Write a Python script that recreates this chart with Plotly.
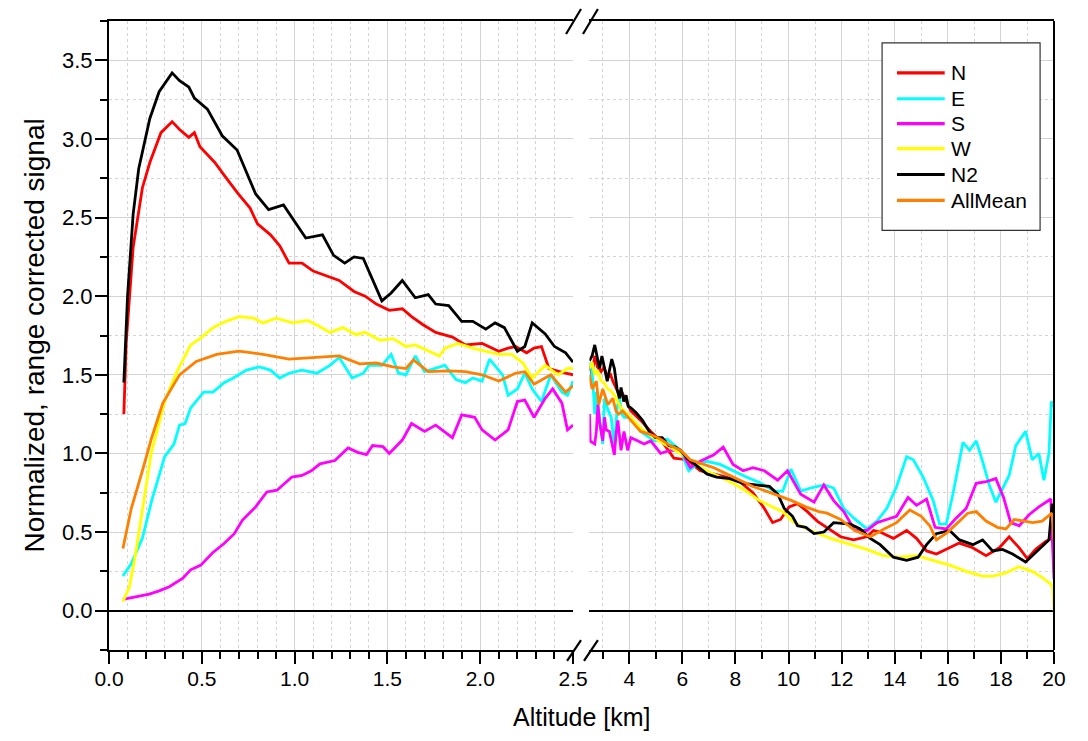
import plotly.graph_objects as go

# ---------------- data: left panel (0 - 2.5 km) ----------------
N_left_x = [0.08, 0.093, 0.13, 0.18, 0.22, 0.28, 0.34, 0.38, 0.43, 0.46, 0.49, 0.57, 0.62, 0.69, 0.76, 0.8, 0.87, 0.92, 0.97, 1.04, 1.1, 1.17, 1.24, 1.32, 1.38, 1.44, 1.51, 1.58, 1.63, 1.69, 1.76, 1.85, 1.92, 2.01, 2.1, 2.15, 2.19, 2.25, 2.29, 2.33, 2.37, 2.46, 2.5]
N_left_y = [1.25, 1.71, 2.31, 2.69, 2.85, 3.04, 3.11, 3.06, 3.01, 3.04, 2.95, 2.85, 2.77, 2.66, 2.56, 2.46, 2.39, 2.32, 2.21, 2.21, 2.16, 2.13, 2.1, 2.03, 2.0, 1.95, 1.91, 1.92, 1.87, 1.82, 1.77, 1.74, 1.69, 1.70, 1.65, 1.67, 1.68, 1.64, 1.67, 1.68, 1.54, 1.51, 1.5]

E_left_x = [0.075, 0.12, 0.18, 0.23, 0.3, 0.35, 0.38, 0.41, 0.44, 0.51, 0.56, 0.62, 0.67, 0.74, 0.81, 0.87, 0.92, 0.97, 1.04, 1.12, 1.19, 1.24, 1.31, 1.37, 1.4, 1.47, 1.52, 1.56, 1.6, 1.65, 1.7, 1.76, 1.81, 1.87, 1.92, 1.96, 2.01, 2.05, 2.12, 2.15, 2.2, 2.24, 2.28, 2.33, 2.38, 2.44, 2.47, 2.5]
E_left_y = [0.22, 0.30, 0.46, 0.70, 0.98, 1.06, 1.18, 1.19, 1.29, 1.39, 1.39, 1.45, 1.48, 1.53, 1.55, 1.53, 1.48, 1.51, 1.53, 1.51, 1.56, 1.61, 1.48, 1.51, 1.56, 1.56, 1.63, 1.51, 1.50, 1.62, 1.52, 1.54, 1.56, 1.47, 1.45, 1.48, 1.46, 1.60, 1.50, 1.37, 1.41, 1.51, 1.41, 1.33, 1.50, 1.39, 1.37, 1.46]

S_left_x = [0.075, 0.147, 0.217, 0.27, 0.325, 0.396, 0.44, 0.495, 0.557, 0.62, 0.675, 0.718, 0.79, 0.85, 0.905, 0.985, 1.04, 1.09, 1.137, 1.217, 1.288, 1.34, 1.387, 1.42, 1.476, 1.51, 1.55, 1.58, 1.63, 1.7, 1.76, 1.85, 1.9, 1.97, 2.01, 2.08, 2.15, 2.2, 2.24, 2.29, 2.35, 2.39, 2.44, 2.47, 2.5]
S_left_y = [0.072, 0.089, 0.105, 0.126, 0.152, 0.205, 0.26, 0.29, 0.367, 0.427, 0.49, 0.575, 0.66, 0.755, 0.766, 0.85, 0.86, 0.89, 0.934, 0.955, 1.035, 1.007, 0.992, 1.05, 1.043, 1.0, 1.05, 1.085, 1.19, 1.14, 1.18, 1.1, 1.245, 1.23, 1.15, 1.085, 1.15, 1.33, 1.34, 1.23, 1.35, 1.41, 1.32, 1.15, 1.18]

W_left_x = [0.075, 0.11, 0.146, 0.18, 0.227, 0.3, 0.366, 0.44, 0.49, 0.56, 0.63, 0.7, 0.78, 0.83, 0.9, 0.99, 1.07, 1.13, 1.19, 1.26, 1.33, 1.38, 1.46, 1.53, 1.6, 1.65, 1.72, 1.78, 1.81, 1.88, 1.96, 2.03, 2.1, 2.17, 2.23, 2.28, 2.35, 2.42, 2.47, 2.5]
W_left_y = [0.057, 0.15, 0.38, 0.64, 1.0, 1.33, 1.52, 1.69, 1.73, 1.80, 1.84, 1.87, 1.86, 1.83, 1.86, 1.83, 1.845, 1.81, 1.77, 1.80, 1.755, 1.77, 1.72, 1.73, 1.68, 1.69, 1.65, 1.62, 1.67, 1.70, 1.67, 1.65, 1.63, 1.63, 1.575, 1.48, 1.56, 1.5, 1.54, 1.54]

N2_left_x = [0.08, 0.1, 0.13, 0.16, 0.22, 0.27, 0.34, 0.38, 0.43, 0.46, 0.53, 0.61, 0.69, 0.79, 0.86, 0.94, 1.06, 1.15, 1.21, 1.27, 1.32, 1.37, 1.47, 1.52, 1.58, 1.65, 1.72, 1.76, 1.83, 1.9, 1.96, 2.03, 2.08, 2.13, 2.2, 2.24, 2.28, 2.35, 2.4, 2.46, 2.5]
N2_left_y = [1.45, 2.0, 2.52, 2.81, 3.13, 3.3, 3.42, 3.37, 3.33, 3.26, 3.19, 3.02, 2.93, 2.65, 2.55, 2.58, 2.37, 2.39, 2.26, 2.21, 2.25, 2.24, 1.97, 2.02, 2.1, 1.99, 2.01, 1.95, 1.94, 1.84, 1.84, 1.79, 1.83, 1.8, 1.65, 1.68, 1.83, 1.76, 1.68, 1.64, 1.58]

AllMean_left_x = [0.075, 0.12, 0.18, 0.23, 0.29, 0.38, 0.47, 0.58, 0.7, 0.83, 0.97, 1.1, 1.24, 1.35, 1.44, 1.53, 1.6, 1.64, 1.72, 1.83, 1.92, 2.01, 2.1, 2.19, 2.24, 2.29, 2.38, 2.46, 2.5]
AllMean_left_y = [0.395, 0.65, 0.89, 1.10, 1.32, 1.5, 1.585, 1.63, 1.65, 1.63, 1.6, 1.61, 1.62, 1.57, 1.575, 1.55, 1.54, 1.595, 1.52, 1.525, 1.52, 1.5, 1.46, 1.51, 1.52, 1.44, 1.5, 1.39, 1.43]

# ---------------- data: right panel (2.5 - 20 km) ----------------
N_right_x = [2.5, 2.6, 2.7, 2.8, 2.94, 3.05, 3.19, 3.3, 3.38, 3.5, 3.63, 3.75, 3.88, 4.06, 4.43, 4.81, 5.3, 5.68, 6.17, 6.67, 7.17, 7.66, 8.16, 8.66, 9.09, 9.4, 9.7, 10.02, 10.34, 10.71, 11.08, 11.58, 11.96, 12.45, 12.95, 13.2, 13.45, 13.95, 14.45, 14.82, 15.2, 15.57, 15.94, 16.43, 16.94, 17.44, 17.94, 18.31, 18.69, 19.0, 19.31, 19.69, 19.9, 20.0]
N_right_y = [1.56, 1.5, 1.62, 1.55, 1.52, 1.55, 1.48, 1.5, 1.46, 1.42, 1.37, 1.38, 1.33, 1.27, 1.21, 1.14, 1.06, 0.97, 0.96, 0.89, 0.87, 0.85, 0.82, 0.75, 0.65, 0.56, 0.58, 0.66, 0.68, 0.63, 0.57, 0.51, 0.47, 0.45, 0.47, 0.51, 0.5, 0.46, 0.51, 0.46, 0.38, 0.36, 0.39, 0.43, 0.4, 0.35, 0.4, 0.47, 0.40, 0.33, 0.39, 0.44, 0.46, 0.5]

E_right_x = [2.5, 2.56, 2.63, 2.7, 2.76, 2.82, 2.88, 3.0, 3.07, 3.19, 3.32, 3.44, 3.55, 3.63, 3.72, 3.81, 4.06, 4.43, 4.93, 5.43, 5.93, 6.24, 6.55, 6.92, 7.42, 7.91, 8.41, 8.97, 9.46, 9.78, 10.09, 10.46, 10.83, 11.33, 11.7, 12.08, 12.45, 12.95, 13.33, 13.7, 14.07, 14.45, 14.7, 15.07, 15.45, 15.69, 15.94, 16.19, 16.57, 16.82, 17.07, 17.31, 17.56, 17.81, 18.06, 18.31, 18.56, 18.93, 19.18, 19.43, 19.62, 19.81, 19.9, 20.0]
E_right_y = [1.56, 1.58, 1.45, 1.25, 1.39, 1.3, 1.2, 1.06, 1.35, 1.28, 1.23, 1.04, 1.3, 1.35, 1.25, 1.23, 1.23, 1.14, 1.08, 1.09, 1.02, 0.89, 0.93, 0.95, 0.93, 0.89, 0.85, 0.81, 0.76, 0.76, 0.9, 0.76, 0.78, 0.8, 0.78, 0.65, 0.59, 0.52, 0.57, 0.65, 0.79, 0.98, 0.96, 0.85, 0.7, 0.55, 0.55, 0.74, 1.07, 1.02, 1.08, 0.95, 0.8, 0.69, 0.78, 0.86, 1.05, 1.14, 0.96, 1.0, 0.83, 1.0, 1.33, 1.3]

S_right_x = [2.5, 2.53, 2.6, 2.7, 2.76, 2.82, 2.88, 3.0, 3.07, 3.13, 3.25, 3.38, 3.44, 3.5, 3.57, 3.69, 3.8, 3.94, 4.06, 4.31, 4.56, 4.81, 5.18, 5.55, 5.93, 6.3, 6.67, 7.17, 7.54, 7.91, 8.29, 8.66, 9.09, 9.59, 9.96, 10.46, 10.96, 11.33, 11.7, 12.08, 12.5, 12.95, 13.33, 13.7, 14.07, 14.5, 14.82, 15.2, 15.52, 15.94, 16.32, 16.69, 17.07, 17.44, 17.81, 18.1, 18.37, 18.69, 19.06, 19.43, 19.73, 19.88, 19.95, 20.0]
S_right_y = [1.25, 1.08, 1.07, 1.06, 1.14, 1.31, 1.2, 1.08, 1.23, 1.15, 1.14, 1.05, 0.99, 1.12, 1.21, 1.02, 1.14, 1.02, 1.1, 1.08, 1.06, 1.08, 1.0, 1.02, 1.02, 0.91, 0.95, 0.99, 1.04, 0.93, 0.89, 0.91, 0.89, 0.83, 0.89, 0.74, 0.69, 0.8, 0.7, 0.63, 0.51, 0.51, 0.56, 0.58, 0.6, 0.72, 0.67, 0.71, 0.53, 0.52, 0.59, 0.65, 0.81, 0.82, 0.84, 0.72, 0.56, 0.54, 0.61, 0.66, 0.69, 0.71, 0.4, 0.2]

W_right_x = [2.5, 2.6, 2.7, 2.8, 2.94, 3.05, 3.19, 3.3, 3.44, 3.69, 4.06, 4.43, 4.93, 5.43, 5.93, 6.42, 6.92, 7.42, 7.91, 8.41, 8.91, 9.4, 9.78, 10.21, 10.83, 11.58, 12.33, 12.95, 13.57, 14.2, 14.82, 15.45, 16.07, 16.69, 17.31, 17.69, 18.19, 18.67, 19.18, 19.56, 19.87, 19.95, 20.0]
W_right_y = [1.54, 1.58, 1.5, 1.53, 1.46, 1.45, 1.41, 1.40, 1.37, 1.29, 1.23, 1.16, 1.1, 1.05, 1.0, 0.94, 0.89, 0.85, 0.81, 0.76, 0.70, 0.66, 0.63, 0.56, 0.51, 0.46, 0.42, 0.39, 0.35, 0.34, 0.35, 0.32, 0.29, 0.25, 0.22, 0.22, 0.24, 0.28, 0.25, 0.21, 0.17, 0.15, 0.0]

N2_right_x = [2.5, 2.6, 2.7, 2.8, 2.88, 2.97, 3.07, 3.17, 3.34, 3.44, 3.54, 3.63, 3.69, 3.79, 3.88, 3.96, 4.06, 4.25, 4.5, 4.75, 4.99, 5.24, 5.49, 5.74, 5.93, 6.17, 6.48, 6.92, 7.29, 7.79, 8.29, 8.78, 9.28, 9.6, 9.84, 10.15, 10.34, 10.65, 10.96, 11.33, 11.7, 12.33, 12.7, 13.08, 13.45, 13.95, 14.45, 14.88, 15.2, 15.57, 16.07, 16.44, 16.94, 17.31, 17.69, 18.06, 18.44, 18.93, 19.31, 19.62, 19.81, 19.93, 20.0]
N2_right_y = [1.59, 1.62, 1.69, 1.6, 1.54, 1.62, 1.54, 1.46, 1.6, 1.54, 1.41, 1.35, 1.42, 1.33, 1.37, 1.3, 1.29, 1.26, 1.21, 1.14, 1.1, 1.1, 1.05, 1.04, 1.02, 0.97, 0.93, 0.87, 0.85, 0.84, 0.81, 0.8, 0.79, 0.74, 0.65, 0.6, 0.54, 0.53, 0.49, 0.5, 0.56, 0.55, 0.52, 0.46, 0.42, 0.34, 0.32, 0.34, 0.42, 0.49, 0.51, 0.45, 0.42, 0.45, 0.38, 0.39, 0.36, 0.31, 0.37, 0.42, 0.45, 0.68, 0.6]

AllMean_right_x = [2.5, 2.6, 2.7, 2.76, 2.85, 3.0, 3.1, 3.19, 3.38, 3.5, 3.6, 3.75, 4.06, 4.43, 4.81, 5.18, 5.55, 5.93, 6.3, 6.67, 7.17, 7.66, 8.16, 8.66, 9.16, 9.65, 10.12, 10.65, 11.14, 11.45, 11.96, 12.5, 13.08, 13.6, 14.07, 14.57, 15.0, 15.32, 15.57, 16.0, 16.37, 16.75, 17.07, 17.44, 17.87, 18.19, 18.5, 18.85, 19.2, 19.55, 19.8, 19.92, 20.0]
AllMean_right_y = [1.5, 1.41, 1.44, 1.46, 1.31, 1.41, 1.36, 1.31, 1.35, 1.27, 1.25, 1.27, 1.21, 1.14, 1.12, 1.09, 1.05, 1.02, 0.96, 0.94, 0.91, 0.87, 0.83, 0.79, 0.76, 0.73, 0.7, 0.66, 0.63, 0.62, 0.58, 0.51, 0.47, 0.52, 0.56, 0.64, 0.6, 0.54, 0.45, 0.5, 0.56, 0.62, 0.63, 0.57, 0.53, 0.52, 0.58, 0.57, 0.56, 0.57, 0.6, 0.62, 0.45]

series_names = ["N", "E", "S", "W", "N2", "AllMean"]
series_colors = ["#FF0000", "#00FFFF", "#FF00FF", "#FFFF00", "#000000", "#FF8000"]
left_data = [(N_left_x, N_left_y), (E_left_x, E_left_y), (S_left_x, S_left_y),
             (W_left_x, W_left_y), (N2_left_x, N2_left_y), (AllMean_left_x, AllMean_left_y)]
right_data = [(N_right_x, N_right_y), (E_right_x, E_right_y), (S_right_x, S_right_y),
              (W_right_x, W_right_y), (N2_right_x, N2_right_y), (AllMean_right_x, AllMean_right_y)]

left_ticks = [0.0, 0.5, 1.0, 1.5, 2.0, 2.5]
right_ticks = [4, 6, 8, 10, 12, 14, 16, 18, 20]
right_minor = [3, 5, 7, 9, 11, 13, 15, 17, 19]

FONT = "Liberation Sans, Arial, sans-serif"
GRID = "#d4d4d4"
LW = 2.8

fig = go.Figure()
for name, col, (lx, ly), (rx, ry) in zip(series_names, series_colors, left_data, right_data):
    fig.add_trace(go.Scatter(x=lx, y=ly, mode="lines", name=name,
                             line=dict(color=col, width=LW), xaxis="x", yaxis="y"))
    fig.add_trace(go.Scatter(x=rx, y=ry, mode="lines", name=name,
                             line=dict(color=col, width=LW), xaxis="x2", yaxis="y"))

# page offset (browser body margin) and target plot-area geometry in page pixels
OFF = 8
FW, FH = 1088 - 2 * OFF, 741 - 2 * OFF
L, R, T, B = 109 - OFF, 1060 - OFF, 19 - OFF, 650 - OFF
W, H = R - L, B - T
def px(x):          # page pixel -> paper x
    return (x - OFF - L) / W
def py(y):          # page pixel -> paper y
    return (B - (y - OFF)) / H

common_x = dict(showline=True, linecolor="black", linewidth=2, mirror=True,
                ticks="outside", ticklen=12, tickwidth=2, tickcolor="black",
                showgrid=True, gridcolor=GRID, gridwidth=1.2, zeroline=False,
                ticklabelstandoff=-3,
                tickfont=dict(family=FONT, size=21, color="black"))

fig.update_layout(
    width=FW, height=FH,
    margin=dict(l=L, r=FW - R, t=T, b=FH - B, pad=0),
    paper_bgcolor="white", plot_bgcolor="white",
    font=dict(family=FONT, color="black"),
    showlegend=False,
    xaxis=dict(domain=[0, px(576)], range=[0, 2.5], tickvals=left_ticks,
               ticktext=["%.1f" % v for v in left_ticks], anchor="y",
               minor=dict(dtick=0.1, tick0=0, ticks="outside", ticklen=7, tickwidth=2,
                          tickcolor="black", showgrid=True, gridcolor=GRID, griddash="dot",
                          gridwidth=1),
               **common_x),
    xaxis2=dict(domain=[px(592.5), 1], range=[2.5, 20], tickvals=right_ticks, anchor="y",
                minor=dict(tickvals=right_minor, ticks="outside", ticklen=7, tickwidth=2,
                           tickcolor="black", showgrid=True, gridcolor=GRID, griddash="dot",
                           gridwidth=1),
                **common_x),
    yaxis=dict(range=[-0.25, 3.75], dtick=0.5, tick0=0, tickformat=".1f",
               showline=True, linecolor="black", linewidth=2, mirror=False,
               ticks="outside", ticklen=12, tickwidth=2, tickcolor="black",
               showgrid=True, gridcolor=GRID, gridwidth=1.2,
               zeroline=True, zerolinecolor="black", zerolinewidth=2,
               ticklabelstandoff=-2,
               minor=dict(dtick=0.25, tick0=0, ticks="outside", ticklen=7, tickwidth=2,
                          tickcolor="black", showgrid=True, gridcolor=GRID, griddash="dot",
                          gridwidth=1),
               tickfont=dict(family=FONT, size=22, color="black")),
)

# right frame line
fig.add_shape(type="line", xref="paper", yref="paper", x0=1, x1=1, y0=0, y1=1,
              line=dict(color="black", width=2))

# legend box (drawn in paper space)
fig.add_shape(type="rect", xref="paper", yref="paper",
              x0=px(887), x1=px(1046), y0=py(229), y1=py(41),
              line=dict(color="#333333", width=1.2), fillcolor="white", layer="above")
legend_rows = [71, 97, 122, 147, 173, 199]
for name, col, ry in zip(series_names, series_colors, legend_rows):
    fig.add_shape(type="line", xref="paper", yref="paper",
                  x0=px(902), x1=px(950), y0=py(ry), y1=py(ry),
                  line=dict(color=col, width=3.2), layer="above")
    fig.add_annotation(text=name, xref="paper", yref="paper", x=px(954), y=py(ry),
                       xanchor="left", yanchor="middle", showarrow=False,
                       font=dict(family=FONT, size=21, color="black"))

# axis titles
fig.add_annotation(text="Altitude [km]", xref="paper", yref="paper", x=px(585), y=py(717),
                   xanchor="center", yanchor="middle", showarrow=False,
                   font=dict(family=FONT, size=25, color="black"))
fig.add_annotation(text="Normalized, range corrected signal", xref="paper", yref="paper",
                   x=px(34), y=py(334), textangle=-90, xanchor="center", yanchor="middle",
                   showarrow=False, font=dict(family=FONT, size=28, color="black"))

# axis break marks
for (x0, y0, x1, y1) in [(570, 661, 584, 640), (587, 661, 601, 640),
                         (569, 32, 584, 7), (586, 32, 601, 7)]:
    fig.add_shape(type="line", xref="paper", yref="paper",
                  x0=px(x0), y0=py(y0), x1=px(x1), y1=py(y1),
                  line=dict(color="black", width=2.2))

fig.write_html("out.html")
